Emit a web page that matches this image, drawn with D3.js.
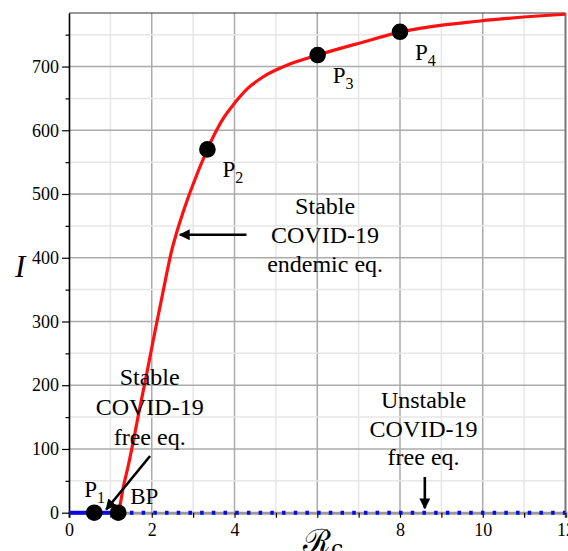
<!DOCTYPE html>
<html>
<head>
<meta charset="utf-8">
<script src="https://cdn.jsdelivr.net/npm/d3@7"></script>
<style>
  body { margin: 0; background: #fff; }
  svg { display: block; }
  svg text { font-family: "Liberation Serif", "Times New Roman", serif; }
</style>
</head>
<body>
<div id="chart"></div>
<script>
  // data
  var endemicR = [1.17, 1.233, 1.312, 1.433, 1.554, 1.716, 1.878, 2.037, 2.199, 2.361, 2.477, 2.586, 2.755, 2.997, 3.345, 3.488, 3.722, 3.971, 4.326, 4.696, 5.341, 6.01, 7.033, 8.0, 9.934, 12.0];
  var endemicI = [0, 12, 40, 74, 112, 166, 218, 271, 323, 375, 410, 436, 471, 515, 570, 590, 618, 640, 666, 684, 704, 718, 737, 754, 771.5, 782];
  var stableFreeR = [0, 1.19];
  var unstableFreeR = [1.19, 12];
  var pointNames = ["1", "BP", "2", "3", "4"];
  var pointR = [0.61, 1.19, 3.345, 6.01, 8.0];
  var pointI = [0, 0, 570, 718, 754.5];
  var xTickLabels = [0, 2, 4, 8, 10, 12];
  var yTickLabels = [0, 100, 200, 300, 400, 500, 600, 700];

  var width = 568, height = 551;
  var margin = {top: 13, right: 2.5, bottom: 38.3, left: 69};

  var svg = d3.select("#chart").append("svg")
    .attr("width", width)
    .attr("height", height);

  var x = d3.scaleLinear().domain([0, 12]).range([margin.left, width - margin.right]);
  var y = d3.scaleLinear().domain([0, 784]).range([height - margin.bottom, margin.top]);

  // grid: minor first, then major
  var grid = svg.append("g").attr("class", "grid");
  d3.range(1, 12).forEach(function (v) {
    grid.append("line")
      .attr("x1", x(v)).attr("x2", x(v))
      .attr("y1", y(0)).attr("y2", y(784))
      .attr("stroke", v % 2 ? "#e6e6e6" : "#ababab")
      .attr("stroke-width", 1.5);
  });
  d3.range(50, 784, 50).forEach(function (v) {
    grid.append("line")
      .attr("x1", x(0)).attr("x2", x(12))
      .attr("y1", y(v)).attr("y2", y(v))
      .attr("stroke", v % 100 ? "#e6e6e6" : "#ababab")
      .attr("stroke-width", 1.5);
  });

  // frame
  svg.append("line")
    .attr("x1", x(0)).attr("x2", x(12)).attr("y1", y(784)).attr("y2", y(784))
    .attr("stroke", "#333").attr("stroke-width", 1.2);
  svg.append("line")
    .attr("x1", x(12)).attr("x2", x(12)).attr("y1", y(0)).attr("y2", y(784))
    .attr("stroke", "#777").attr("stroke-width", 2);

  // x axis (ticks every 1, labels from the list)
  var xAxis = d3.axisBottom(x)
    .tickValues(d3.range(0, 13))
    .tickSize(5)
    .tickFormat(function (d) { return xTickLabels.indexOf(d) >= 0 ? d : ""; });
  var gx = svg.append("g")
    .attr("transform", "translate(0," + y(0) + ")")
    .call(xAxis)
    .attr("font-family", null);
  gx.select(".domain").attr("stroke", "#9a9a9a").attr("stroke-width", 3);
  gx.selectAll(".tick line").attr("stroke", "#000").attr("stroke-width", 1.2);
  gx.selectAll(".tick text")
    .style("font-family", "'Liberation Serif', serif")
    .style("font-size", "18px")
    .attr("fill", "#000").attr("y", 11);

  // y axis (ticks every 50, labels at 100s)
  var yAxis = d3.axisLeft(y)
    .tickValues(d3.range(0, 784, 50))
    .tickSize(0)
    .tickFormat(function (d) { return yTickLabels.indexOf(d) >= 0 ? d : ""; });
  var gy = svg.append("g")
    .attr("transform", "translate(" + x(0) + ",0)")
    .call(yAxis)
    .attr("font-family", null);
  gy.select(".domain").attr("stroke", "#000").attr("stroke-width", 1.6);
  gy.selectAll(".tick line")
    .attr("x2", function (d) { return d % 100 ? -3.5 : -7; })
    .attr("stroke", "#000").attr("stroke-width", 1.2);
  gy.selectAll(".tick text")
    .style("font-family", "'Liberation Serif', serif")
    .style("font-size", "18px")
    .attr("fill", "#000").attr("x", -10);

  // axis titles
  svg.append("text")
    .attr("x", 15).attr("y", 277)
    .attr("font-size", 31).attr("font-style", "italic")
    .text("I");
  var xt = svg.append("text")
    .attr("x", 303).attr("y", 552)
    .attr("font-size", 32)
    .style("font-family", "'DejaVu Serif', serif");
  xt.append("tspan").text("\u211B");
  xt.append("tspan").attr("font-size", 22).attr("dy", 4).text("c");

  // disease-free branch at I = 0
  var line = d3.line()
    .x(function (d) { return x(d[0]); })
    .y(function (d) { return y(d[1]); });
  svg.append("path")
    .datum(stableFreeR.map(function (r) { return [r, 0]; }))
    .attr("d", line)
    .attr("fill", "none").attr("stroke", "#0a0ae6").attr("stroke-width", 4);
  svg.append("path")
    .datum(unstableFreeR.map(function (r) { return [r, 0]; }))
    .attr("d", line)
    .attr("fill", "none").attr("stroke", "#0a0ae6").attr("stroke-width", 4)
    .attr("stroke-dasharray", "3.5,8.2");

  // endemic branch
  var curve = d3.line()
    .x(function (d) { return x(d[0]); })
    .y(function (d) { return y(d[1]); })
    .curve(d3.curveMonotoneX);
  svg.append("path")
    .datum(endemicR.map(function (r, i) { return [r, endemicI[i]]; }))
    .attr("d", curve)
    .attr("fill", "none").attr("stroke", "#ff1010").attr("stroke-width", 3.2);

  // points
  svg.selectAll("circle.pt")
    .data(pointR)
    .enter().append("circle")
    .attr("class", "pt")
    .attr("cx", function (d) { return x(d); })
    .attr("cy", function (d, i) { return y(pointI[i]); })
    .attr("r", 8.3)
    .attr("fill", "#000");

  // point labels
  pointNames.forEach(function (name, i) {
    var px = x(pointR[i]), py = y(pointI[i]);
    var t = svg.append("text").attr("font-size", 23);
    if (name === "BP") {
      t.attr("x", px + 12).attr("y", py - 9).text("BP");
      return;
    }
    if (name === "1") {
      t.attr("x", px - 10).attr("y", py - 16);
    } else {
      t.attr("x", px + 15).attr("y", py + 28);
    }
    t.append("tspan").text("P");
    t.append("tspan").attr("font-size", 16).attr("dy", 6).text(name);
  });

  // annotations
  svg.append("defs").append("marker")
    .attr("id", "head")
    .attr("viewBox", "0 0 10 10")
    .attr("refX", 9).attr("refY", 5)
    .attr("markerWidth", 4.2).attr("markerHeight", 4.2)
    .attr("markerUnits", "strokeWidth")
    .attr("orient", "auto")
    .append("path").attr("d", "M0,0L10,5L0,10z").attr("fill", "#000");

  function arrow(r1, i1, r2, i2) {
    svg.append("line")
      .attr("x1", x(r1)).attr("y1", y(i1))
      .attr("x2", x(r2)).attr("y2", y(i2))
      .attr("stroke", "#000").attr("stroke-width", 2.6)
      .attr("marker-end", "url(#head)");
  }

  function note(r, lines, baselines) {
    var t = svg.append("text")
      .attr("text-anchor", "middle")
      .attr("font-size", 24);
    lines.forEach(function (s, k) {
      t.append("tspan").attr("x", x(r)).attr("y", y(baselines[k])).text(s);
    });
  }

  note(6.19, ["Stable", "COVID-19", "endemic eq."], [469, 423, 378]);
  arrow(4.29, 436, 2.68, 436);

  note(1.95, ["Stable", "COVID-19", "free eq."], [200, 153, 106]);
  arrow(1.96, 89, 0.9, 5);

  note(8.57, ["Unstable", "COVID-19", "free eq."], [164, 119, 75]);
  arrow(8.6, 56, 8.6, 7);
</script>
</body>
</html>
